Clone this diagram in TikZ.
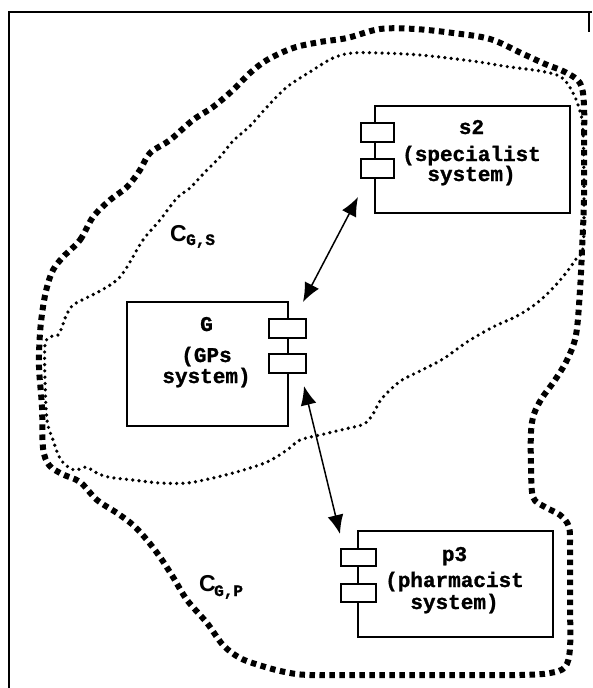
\documentclass[tikz,border=0pt]{standalone}
\usepackage{fontspec}
\newfontfamily\monofam[BoldFeatures={FakeBold=1.2}]{Liberation Mono}
\newfontfamily\sansfam{Liberation Sans}
\usetikzlibrary{arrows.meta}
\tikzset{
  comp/.style={draw, line width=1.7pt, fill=white},
  port/.style={draw, line width=1.5pt, fill=white},
  txt/.style={font=\monofam\bfseries\fontsize{21}{25}\selectfont, anchor=base, inner sep=0pt},
  clbl/.style={font=\sansfam\bfseries\fontsize{23}{26}\selectfont, anchor=base west, inner sep=0pt},
  csub/.style={font=\monofam\bfseries\fontsize{16}{18}\selectfont, anchor=base west, inner sep=0pt},
  conn/.style={{Latex[length=19pt,width=16pt]}-{Latex[length=19pt,width=16pt]}, line width=1.5pt},
  thickdots/.style={line width=6pt, dash pattern=on 5.5pt off 4.5pt, line cap=butt},
  thindots/.style={line width=3.6pt, dash pattern=on 0pt off 6.3pt, line cap=round},
  frameline/.style={line width=2pt}
}
\begin{document}
\begin{tikzpicture}[x=1pt,y=-1pt]
\useasboundingbox (0,0) rectangle (592,688);
% frame
\coordinate (fb) at (9,688);
\coordinate (ftl) at (9,12);
\coordinate (ftr) at (592,12);
\draw[frameline] (fb) -- (ftl) -- (ftr);
\coordinate (fr1) at (589,12);
\coordinate (fr2) at (589,32);
\draw[frameline] (fr1) -- (fr2);

% outer thick dotted region C_{G,P}
\draw[thickdots] plot[smooth cycle, tension=0.55] coordinates {
(63,257) (80,240) (93,217) (110,200) (127,187) (140,170) (150,153) (170,140)
(193,120) (213,107) (233,90) (250,73) (267,60) (293,48) (320,42) (347,38)
(380,29) (415,29) (453,33) (490,39) (521,53) (545,64) (565,72) (580,83)
(584,105) (584,150) (584,200) (582,250) (580,290) (576,335) (567,360)
(555,380) (542,398) (534,414) (531,432) (531,465) (533,497) (545,507)
(560,515) (569,527) (570,550) (570,600) (570,648) (565,667) (550,673)
(520,675) (450,675) (380,675) (310,675) (285,672) (262,666) (240,658)
(223,645) (207,623) (187,600) (173,577) (160,557) (147,540) (133,525)
(117,513) (97,500) (80,482) (62,474) (49,465) (43,448) (42,407) (39,367)
(40,333) (43,307) (47,287) (53,270)};

% inner thin dotted region C_{G,S}
\draw[thindots] plot[smooth cycle, tension=0.55] coordinates {
(127,267) (143,240) (160,220) (177,198) (190,188) (205,172) (220,157)
(233,141) (250,126) (267,107) (287,87) (313,70) (333,58) (352,53)
(380,53) (420,55) (472,61) (510,67) (540,71) (561,77) (572,91) (579,108)
(583,130) (584,200) (583,248) (576,259) (566,273) (553,288) (537,303)
(517,316) (493,327) (467,342) (443,359) (420,371) (402,380) (390,390)
(380,401) (373,414) (364,424) (345,429) (320,435) (300,440) (287,450)
(267,462) (240,471) (213,478) (187,483) (160,483) (133,480) (108,477)
(95,472) (86,467) (74,470) (61,460) (53,440) (47,420) (45,380) (45,345)
(50,337) (58,335) (62,327) (66,316) (72,306) (82,300) (100,291) (117,280)};

% component s2
\node[comp, minimum width=195pt, minimum height=107pt, anchor=north west] (s2) at (374,105) {};
\node[port, minimum width=33pt, minimum height=19pt, anchor=north west] (s2p1) at (360,122) {};
\node[port, minimum width=33pt, minimum height=19pt, anchor=north west] (s2p2) at (360,158) {};
\node[txt] (s2a) at (471.5,134) {s2};
\node[txt] (s2b) at (471.5,161) {(specialist};
\node[txt] (s2c) at (471.5,181) {system)};

% component G
\node[comp, minimum width=161pt, minimum height=124pt, anchor=north west] (g) at (126,301) {};
\node[port, minimum width=37pt, minimum height=19pt, anchor=north west] (gp1) at (268,318) {};
\node[port, minimum width=37pt, minimum height=19pt, anchor=north west] (gp2) at (268,353) {};
\node[txt] (ga) at (206.5,331) {G};
\node[txt] (gb) at (206.5,362) {(GPs};
\node[txt] (gc) at (206.5,383) {system)};

% component p3
\node[comp, minimum width=195pt, minimum height=106pt, anchor=north west] (p3) at (357,530) {};
\node[port, minimum width=35pt, minimum height=17pt, anchor=north west] (pp1) at (340,548) {};
\node[port, minimum width=35pt, minimum height=18pt, anchor=north west] (pp2) at (340,583) {};
\node[txt] (pa) at (454.5,561) {p3};
\node[txt] (pb) at (454.5,587) {(pharmacist};
\node[txt] (pc) at (454.5,609) {system)};

% labels
\node[clbl] (cgs) at (170,241) {C};
\node[csub] (cgss) at (186,245) {G,S};
\node[clbl] (cgp) at (199,591) {C};
\node[csub] (cgps) at (214,596) {G,P};

% connectors
\coordinate (a1s) at (358,197);
\coordinate (a1g) at (303,302);
\draw[conn] (a1g) -- (a1s);
\coordinate (a2g) at (304,386);
\coordinate (a2p) at (340,534);
\draw[conn] (a2g) -- (a2p);
\end{tikzpicture}
\end{document}
